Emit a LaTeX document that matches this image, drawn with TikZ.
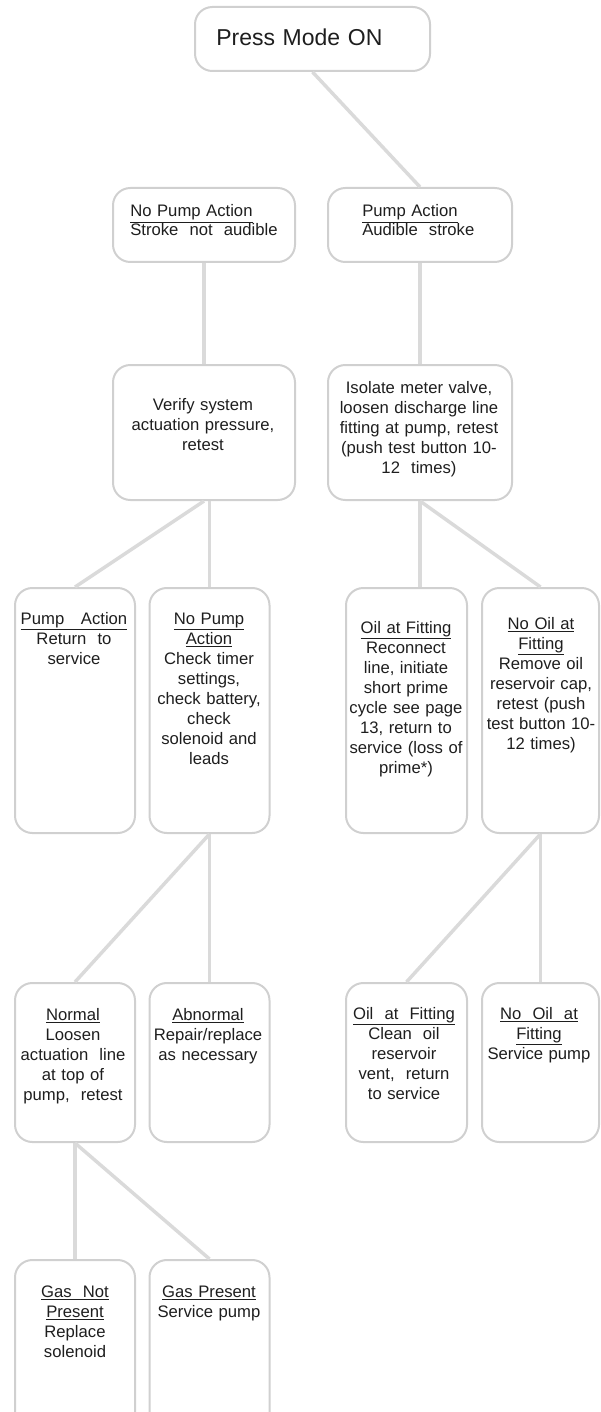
\documentclass[tikz,border=0pt]{standalone}
\usepackage{fontspec}
\setmainfont{Liberation Sans}
\definecolor{boxgray}{RGB}{208,208,208}
\definecolor{linkgray}{RGB}{218,218,218}
\definecolor{inkgray}{RGB}{30,30,30}

\begin{document}
\begin{tikzpicture}[x=0.75pt,y=-0.75pt,
  card/.style 2 args={draw=boxgray,line width=1.5pt,rounded corners=13pt,minimum width=#1*0.75pt,minimum height=#2*0.75pt,inner sep=0pt},
  say/.style={text=inkgray,font=\fontsize{12.5}{15}\selectfont,text width=150pt,align=center,anchor=base,inner sep=0pt},
  link/.style={draw=linkgray,line width=2.6pt}]
  \useasboundingbox (0,0) rectangle (600,1412);
  \clip (0,0) rectangle (600,1412);
  \node[card={235}{64}] (top) at (312.5,39) {};
  \node[card={182}{74}] (npa) at (204,225) {};
  \node[card={184}{74}] (pa) at (420,225) {};
  \node[card={182}{135}] (ver) at (204,432.5) {};
  \node[card={184}{135}] (iso) at (420,432.5) {};
  \node[card={120}{245}] (pr) at (75,710.5) {};
  \node[card={120}{245}] (np) at (209.5,710.5) {};
  \node[card={121}{245}] (oil) at (406.5,710.5) {};
  \node[card={117}{245}] (noil) at (540.5,710.5) {};
  \node[card={120}{159}] (nor) at (75,1062.5) {};
  \node[card={120}{159}] (abn) at (209.5,1062.5) {};
  \node[card={121}{159}] (oilb) at (406.5,1062.5) {};
  \node[card={117}{159}] (noilb) at (540.5,1062.5) {};
  \node[card={120}{200}] (gnp) at (75,1360) {};
  \node[card={120}{200}] (gp) at (209.5,1360) {};

  \node[say,anchor=base west,align=left,font=\fontsize{17.25}{20}\selectfont] (top-t) at (216,46) {Press Mode ON};
  \node[say,anchor=base west,align=left,font=\fontsize{12.5}{14}\selectfont] (npa-t) at (130,217) {\underline{No Pump Action}\\Stroke~~not~~audible};
  \node[say,anchor=base west,align=left,font=\fontsize{12.5}{14}\selectfont] (pa-t) at (362,217) {\underline{Pump Action}\\Audible~~stroke};
  \node[say] (ver-t) at (203,410) {Verify system\\actuation pressure,\\retest};
  \node[say] (iso-t) at (419,393) {Isolate meter valve,\\loosen discharge line\\fitting at pump, retest\\(push test button 10-\\12~~times)};
  \node[say] (pr-t) at (74,624) {\underline{Pump~~~Action}\\Return~~to\\service};
  \node[say] (np-t) at (209,624) {\underline{No Pump}\\\underline{Action}\\Check timer\\settings,\\check battery,\\check\\solenoid and\\leads};
  \node[say] (oil-t) at (406,633) {\underline{Oil at Fitting}\\Reconnect\\line, initiate\\short prime\\cycle see page\\13, return to\\service (loss of\\prime*)};
  \node[say] (noil-t) at (541,629) {\underline{No Oil at}\\\underline{Fitting}\\Remove oil\\reservoir cap,\\retest (push\\test button 10-\\12 times)};
  \node[say] (nor-t) at (73,1020) {\underline{Normal}\\Loosen\\actuation~~line\\at top of\\pump,~~retest};
  \node[say] (abn-t) at (208,1020) {\underline{Abnormal}\\Repair/replace\\as necessary};
  \node[say] (oilb-t) at (404,1019) {\underline{Oil~~at~~Fitting}\\Clean~~oil\\reservoir\\vent,~~return\\to service};
  \node[say] (noilb-t) at (539,1019) {\underline{No~~Oil~~at}\\\underline{Fitting}\\Service pump};
  \node[say] (gnp-t) at (75,1297) {\underline{Gas~~Not}\\\underline{Present}\\Replace\\solenoid};
  \node[say] (gp-t) at (209,1297) {\underline{Gas Present}\\Service pump};

  \draw[link] (top.south) -- (pa.north);
  \draw[link] (npa.south) -- (ver.north);
  \draw[link] (pa.south) -- (iso.north);
  \draw[link] (ver.south) -- (pr.north);
  \draw[link] (np.north) -- (np.north |- ver.south);
  \draw[link] (iso.south) -- (iso.south |- oil.north);
  \draw[link] (iso.south) -- (noil.north);
  \draw[link] (np.south) -- (nor.north);
  \draw[link] (np.south) -- (abn.north);
  \draw[link] (noil.south) -- (oilb.north);
  \draw[link] (noil.south) -- (noilb.north);
  \draw[link] (nor.south) -- (gnp.north);
  \draw[link] (nor.south) -- (gp.north);
\end{tikzpicture}
\end{document}
